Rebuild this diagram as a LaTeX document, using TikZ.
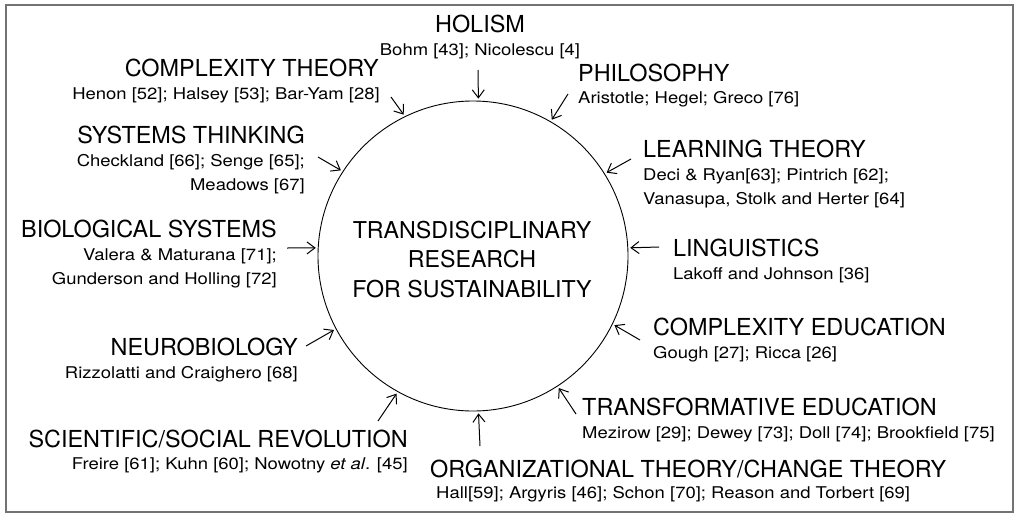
\documentclass[tikz,border=0pt]{standalone}
\usepackage{fontspec}
\setmainfont{TeX Gyre Heros}
\newfontfamily\refsfont[FakeStretch=1.14]{TeX Gyre Heros}
\usetikzlibrary{arrows.meta}

\begin{document}
\begin{tikzpicture}[x=1pt,y=-1pt,
  topic/.style={inner sep=0pt,font=\fontsize{23.4}{28}\selectfont},
  refs/.style={inner sep=0pt,font=\refsfont\fontsize{16.2}{24}\selectfont},
  feed/.style={-{Straight Barb[length=8pt,width=12pt]},line width=1pt,shorten >=2pt}]
  \useasboundingbox (0,0) rectangle (1024,525);
  \draw[line width=1.5pt,black!55] (6,5) rectangle (1013,512);
  \node[circle,draw,line width=0.9pt,minimum size=310pt,inner sep=0pt] (hub) at (473,256) {};
  \node[align=center,inner sep=0pt,font=\fontsize{23.2}{29.5}\selectfont,anchor=base] (title) at (472,297)
    {TRANSDISCIPLINARY\\RESEARCH\\FOR SUSTAINABILITY};
  % top
  \node[topic,anchor=base] (holism) at (480,32) {HOLISM};
  \node[refs,anchor=base] (holismref) at (480,55) {Bohm [43]; Nicolescu [4]};
  \coordinate (holismin) at (478,70);
  \draw[feed] (holismin) -- (hub.88);
  % left side
  \node[topic,anchor=base east] (cplx) at (379,76) {COMPLEXITY THEORY};
  \node[refs,anchor=base east] (cplxref) at (380,99) {Henon [52]; Halsey [53]; Bar-Yam [28]};
  \coordinate (cplxin) at (391,97);
  \draw[feed] (cplxin) -- (hub.116);
  \node[topic,anchor=base east] (systems) at (305,143) {SYSTEMS THINKING};
  \node[refs,align=right,anchor=base east] (systemsref) at (305,190) {Checkland [66]; Senge [65];\\Meadows [67]};
  \coordinate (systemsin) at (318,157);
  \draw[feed] (systemsin) -- (hub.147);
  \node[topic,anchor=base east] (bio) at (277,237) {BIOLOGICAL SYSTEMS};
  \node[refs,align=right,anchor=base east] (bioref) at (277,284) {Valera \& Maturana [71];\\Gunderson and Holling [72]};
  \coordinate (bioin) at (287,248);
  \draw[feed] (bioin) -- (hub.177);
  \node[topic,anchor=base east] (neuro) at (298,355) {NEUROBIOLOGY};
  \node[refs,anchor=base east] (neuroref) at (298,378) {Rizzolatti and Craighero [68]};
  \coordinate (neuroin) at (306,346);
  \draw[feed] (neuroin) -- (hub.208);
  \node[topic,anchor=base east] (revol) at (408,447) {SCIENTIFIC/SOCIAL REVOLUTION};
  \node[refs,anchor=base east] (revolref) at (408,469) {Freire [61]; Kuhn [60]; Nowotny \textit{et al}. [45]};
  \coordinate (revolin) at (378,421);
  \draw[feed] (revolin) -- (hub.241);
  % bottom
  \node[topic,anchor=base west] (org) at (430,477) {ORGANIZATIONAL THEORY/CHANGE THEORY};
  \node[refs,anchor=base west] (orgref) at (436,498) {Hall[59]; Argyris [46]; Schon [70]; Reason and Torbert [69]};
  \coordinate (orgin) at (480,446);
  \draw[feed] (orgin) -- (hub.272);
  % right side
  \node[topic,anchor=base west] (transf) at (582,415) {TRANSFORMATIVE EDUCATION};
  \node[refs,anchor=base west] (transfref) at (582,438) {Mezirow [29]; Dewey [73]; Doll [74]; Brookfield [75]};
  \coordinate (transfin) at (576,414);
  \draw[feed] (transfin) -- (hub.303);
  \node[topic,anchor=base west] (cedu) at (653,335) {COMPLEXITY EDUCATION};
  \node[refs,anchor=base west] (ceduref) at (653,358) {Gough [27]; Ricca [26]};
  \coordinate (ceduin) at (640,340);
  \draw[feed] (ceduin) -- (hub.334);
  \node[topic,anchor=base west] (ling) at (673,256) {LINGUISTICS};
  \node[refs,anchor=base west] (lingref) at (673,279) {Lakoff and Johnson [36]};
  \coordinate (lingin) at (659,247);
  \draw[feed] (lingin) -- (hub.3);
  \node[topic,anchor=base west] (learn) at (643,157) {LEARNING THEORY};
  \node[refs,align=left,anchor=base west] (learnref) at (643,204) {Deci \& Ryan[63]; Pintrich [62];\\Vanasupa, Stolk and Herter [64]};
  \coordinate (learnin) at (631,159);
  \draw[feed] (learnin) -- (hub.32);
  \node[topic,anchor=base west] (philo) at (578,81) {PHILOSOPHY};
  \node[refs,anchor=base west] (philoref) at (578,103) {Aristotle; Hegel; Greco [76]};
  \coordinate (philoin) at (568,94);
  \draw[feed] (philoin) -- (hub.60);
\end{tikzpicture}
\end{document}
